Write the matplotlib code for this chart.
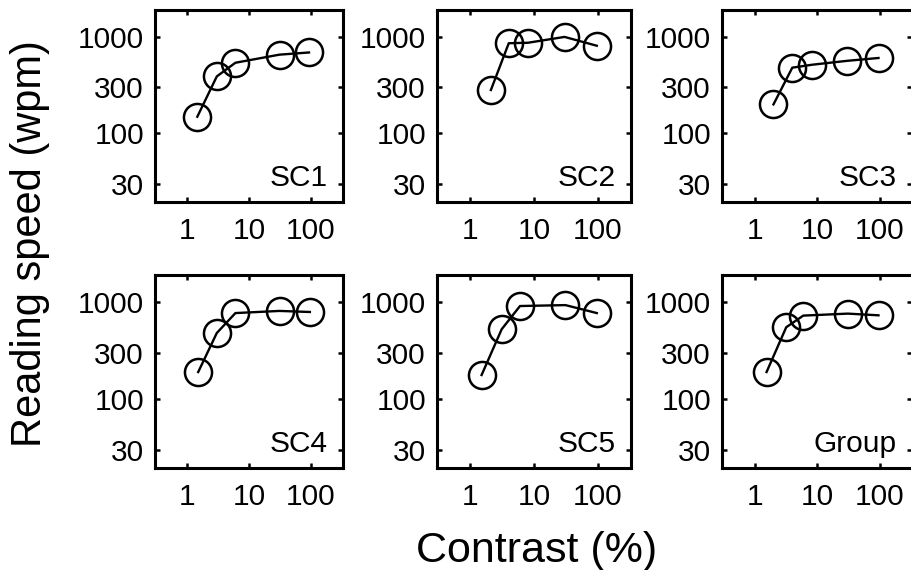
import matplotlib
matplotlib.use("Agg")
import matplotlib.pyplot as plt

plt.rcParams['font.family'] = ['Liberation Sans', 'DejaVu Sans']

panel_names = ["SC1", "SC2", "SC3", "SC4", "SC5", "Group"]
contrast = {
    "SC1": [1.45, 3.0, 6.0, 31, 93],
    "SC2": [2.1, 4.0, 8.0, 30, 96],
    "SC3": [2.0, 4.0, 8.3, 30, 96],
    "SC4": [1.5, 3.0, 6.0, 31, 96],
    "SC5": [1.5, 3.1, 6.0, 31, 96],
    "Group": [1.55, 3.2, 6.0, 31, 96],
}
speed = {
    "SC1": [149, 390, 540, 655, 690],
    "SC2": [282, 860, 870, 1000, 810],
    "SC3": [200, 480, 515, 565, 605],
    "SC4": [190, 480, 770, 810, 790],
    "SC5": [177, 525, 910, 930, 770],
    "Group": [190, 550, 725, 760, 730],
}
xticks = [1, 10, 100]
xticklabels = ["1", "10", "100"]
yticks = [30, 100, 300, 1000]
yticklabels = ["30", "100", "300", "1000"]

W, H = 911, 570
fig = plt.figure(figsize=(W / 100, H / 100), dpi=100)

cols = [(155, 343), (437, 631), (722, 912)]
rows = [(10, 202), (275, 468)]

for i, name in enumerate(panel_names):
    r, c = divmod(i, 3)
    x0, x1 = cols[c]
    y0, y1 = rows[r]
    ax = fig.add_axes([x0 / W, 1 - y1 / H, (x1 - x0) / W, (y1 - y0) / H])
    ax.plot(contrast[name], speed[name], color='black', lw=1.7,
            marker='o', ms=19.5, mfc='none', mec='black', mew=1.8)
    ax.set_xscale('log')
    ax.set_yscale('log')
    ax.set_xlim(0.3, 330)
    ax.set_ylim(19.5, 1900)
    ax.set_xticks(xticks)
    ax.set_xticklabels(xticklabels)
    ax.set_yticks(yticks)
    ax.set_yticklabels(yticklabels)
    ax.minorticks_off()
    ax.tick_params(which='major', direction='in', length=3.5, width=1.8,
                   top=True, right=True, labelsize=21.5, colors='black')
    ax.tick_params(axis='x', pad=11)
    ax.tick_params(axis='y', pad=8)
    for s in ax.spines.values():
        s.set_linewidth(2.2)
        s.set_color('black')
    ax.text(1 - 15 / (x1 - x0), 16 / (y1 - y0), name, transform=ax.transAxes,
            ha='right', va='baseline', fontsize=21.5)

fig.text(0.033, 0.572, "Reading speed (wpm)", rotation=90, ha='center',
         va='center', fontsize=30)
fig.text(0.589, 1 - 562 / H, "Contrast (%)", ha='center', va='baseline',
         fontsize=31)

fig.savefig("out.png", dpi=100)
